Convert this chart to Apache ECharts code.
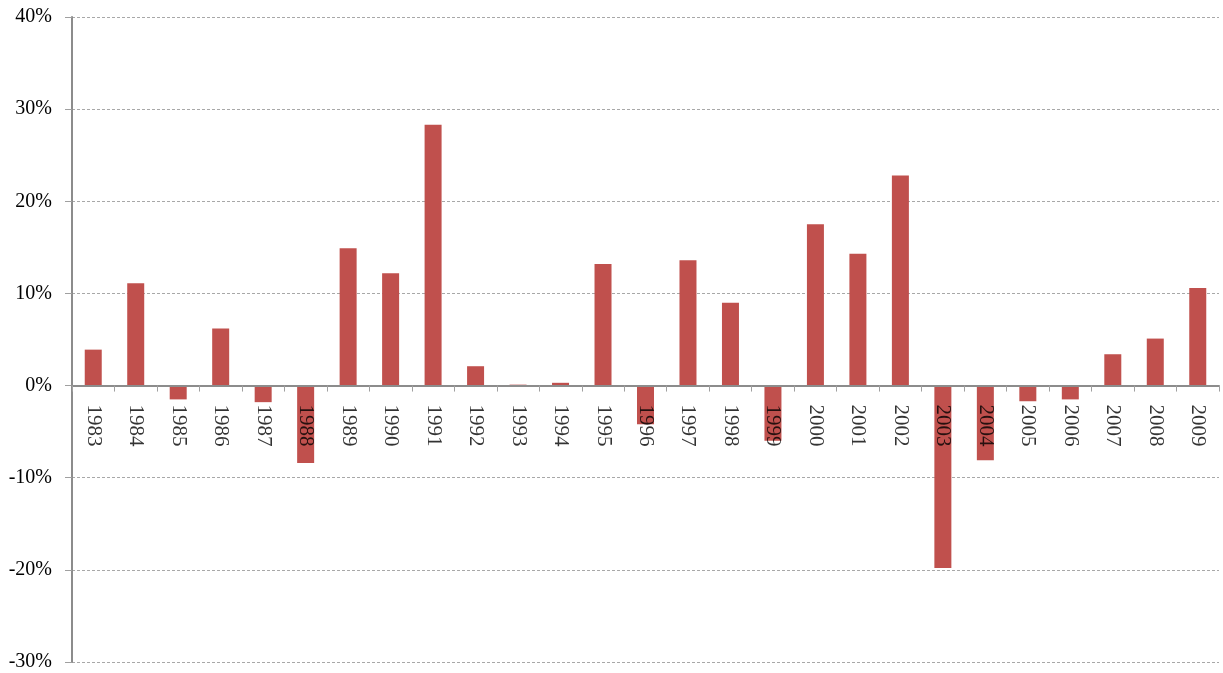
<!DOCTYPE html>
<html>
<head>
    <meta charset="utf-8">
    <script type="text/javascript" src="https://cdn.jsdelivr.net/npm/echarts@6/dist/echarts.min.js"></script>
</head>
<body style="margin:0; background-color:#ffffff">
<div id="main" style="width:1223px;height:673px;"></div>
<script type="text/javascript">
    var years = ['1983', '1984', '1985', '1986', '1987', '1988', '1989', '1990', '1991', '1992',
                 '1993', '1994', '1995', '1996', '1997', '1998', '1999', '2000', '2001', '2002',
                 '2003', '2004', '2005', '2006', '2007', '2008', '2009'];
    var returns = [3.9, 11.1, -1.5, 6.2, -1.8, -8.4, 14.9, 12.2, 28.3, 2.1,
                   0.1, 0.3, 13.2, -4.2, 13.6, 9.0, -6.0, 17.5, 14.3, 22.8,
                   -19.8, -8.1, -1.7, -1.5, 3.4, 5.1, 10.6];
    var yMin = -30, yMax = 40, yStep = 10;

    // the year labels hang from the zero line, so anchor them at 0
    var labelAnchors = years.map(function () { return 0; });

    var myChart = echarts.init(document.getElementById('main'));
    var option = {
        animation: false,
        grid: { left: 72, right: 4, top: 17, bottom: 11, containLabel: false, outerBoundsMode: 'none' },
        xAxis: {
            type: 'category',
            data: years,
            axisLine: { onZero: true, lineStyle: { color: '#8c8c8c', width: 2 } },
            axisTick: { show: true, length: 6, lineStyle: { color: '#a0a0a0' } },
            axisLabel: { show: false },
            z: 3
        },
        yAxis: {
            type: 'value',
            min: yMin,
            max: yMax,
            interval: yStep,
            axisLine: { show: true, onZero: false, lineStyle: { color: '#8c8c8c', width: 2 } },
            axisTick: { show: true, length: 7, lineStyle: { color: '#a0a0a0' } },
            axisLabel: {
                formatter: '{value}%',
                margin: 20,
                fontFamily: 'Liberation Serif',
                fontSize: 20,
                color: '#000'
            },
            splitLine: { lineStyle: { color: '#a8a8a8', type: [3, 2] } }
        },
        series: [{
            type: 'bar',
            data: returns,
            barWidth: 17,
            itemStyle: { color: '#C0504D' },
            z: 1
        }, {
            type: 'scatter',
            data: labelAnchors,
            symbolSize: 0,
            silent: true,
            z: 5,
            label: {
                show: true,
                position: 'bottom',
                distance: 19,
                rotate: -90,
                align: 'left',
                verticalAlign: 'middle',
                formatter: '{b}',
                fontFamily: 'Liberation Serif',
                fontSize: 21,
                color: '#000'
            }
        }]
    };
    myChart.setOption(option);
</script>
</body>
</html>
